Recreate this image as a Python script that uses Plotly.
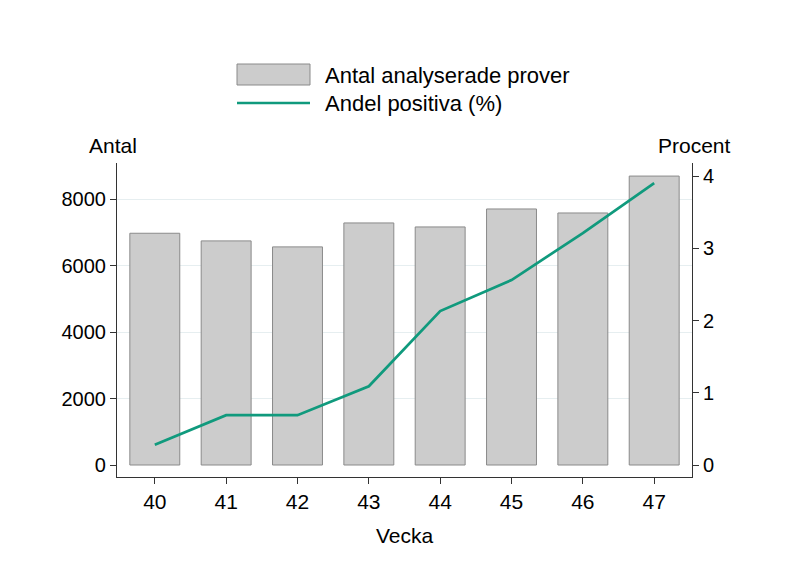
import plotly.graph_objects as go

weeks = [40, 41, 42, 43, 44, 45, 46, 47]
antal = [6970, 6740, 6560, 7280, 7160, 7700, 7580, 8690]
andel = [0.28, 0.69, 0.69, 1.09, 2.13, 2.56, 3.21, 3.90]
left_ticks = [0, 2000, 4000, 6000, 8000]
grid_ticks = [2000, 4000, 6000, 8000]
right_ticks = [0, 1, 2, 3, 4]

FONT = "Liberation Sans, Arial, sans-serif"
BAR_FILL = "#cccccc"
BAR_LINE = "#8a8a8a"
LINE_COL = "#109a7d"
AX = "#333333"

fig = go.Figure()
fig.add_trace(go.Bar(x=weeks, y=antal, width=0.7, name="Antal analyserade prover",
                     marker=dict(color=BAR_FILL, line=dict(color=BAR_LINE, width=1)),
                     yaxis="y", showlegend=False))
fig.add_trace(go.Scatter(x=weeks, y=andel, mode="lines", name="Andel positiva (%)",
                         line=dict(color=LINE_COL, width=2.7), yaxis="y2", showlegend=False))

yr = [-361, 9083]
y2r = [-0.166, 4.18]

# page has an 8px body offset; plot area targeted at x 117-692, y 163-477
L, T, W, H = 109, 155, 575, 314
fig.update_layout(
    width=786, height=571,
    margin=dict(l=L, r=786 - L - W, t=T, b=571 - T - H),
    paper_bgcolor="white", plot_bgcolor="white",
    font=dict(family=FONT, size=21, color="black"),
    xaxis=dict(range=[39.47, 47.53], tickvals=weeks, ticks="outside", ticklen=6,
               tickcolor=AX, showline=True, linecolor=AX, linewidth=1.2,
               showgrid=False, zeroline=False,
               title=dict(text="Vecka", font=dict(size=21), standoff=16),
               tickfont=dict(size=21)),
    yaxis=dict(range=yr, tickvals=left_ticks, ticks="outside", ticklen=6, tickcolor=AX,
               showline=True, linecolor=AX, linewidth=1.2, showgrid=False, zeroline=False,
               tickfont=dict(size=20)),
    yaxis3=dict(range=yr, tickvals=grid_ticks, showgrid=True, gridcolor="#e6eef0",
                gridwidth=1, showticklabels=False, overlaying="y", zeroline=False,
                showline=False, ticks=""),
    yaxis2=dict(range=y2r, tickvals=right_ticks, overlaying="y", side="right",
                ticks="outside", ticklen=6, tickcolor=AX, showline=True, linecolor=AX,
                linewidth=1.2, showgrid=False, zeroline=False, tickfont=dict(size=20)),
)
fig.add_trace(go.Scatter(x=[weeks[0]], y=[None], yaxis="y3", showlegend=False, hoverinfo="skip"))

def px(x):
    return (x - 117) / W

def py(y):
    return (477 - y) / H

fig.add_annotation(text="Antal", xref="paper", yref="paper", x=px(112.5), y=py(146),
                   xanchor="center", yanchor="middle", showarrow=False, font=dict(size=21))
fig.add_annotation(text="Procent", xref="paper", yref="paper", x=px(694), y=py(146),
                   xanchor="center", yanchor="middle", showarrow=False, font=dict(size=21))

# legend
fig.add_shape(type="rect", xref="paper", yref="paper", x0=px(237), x1=px(310),
              y0=py(85), y1=py(64), fillcolor=BAR_FILL, line=dict(color=BAR_LINE, width=1))
fig.add_shape(type="line", xref="paper", yref="paper", x0=px(237), x1=px(310),
              y0=py(103), y1=py(103), line=dict(color=LINE_COL, width=2.7))
fig.add_annotation(text="Antal analyserade prover", xref="paper", yref="paper",
                   x=px(323), y=py(75), xanchor="left", yanchor="middle",
                   showarrow=False, font=dict(size=22))
fig.add_annotation(text="Andel positiva (%)", xref="paper", yref="paper",
                   x=px(323), y=py(104), xanchor="left", yanchor="middle",
                   showarrow=False, font=dict(size=22))

fig.write_html("out.html")
